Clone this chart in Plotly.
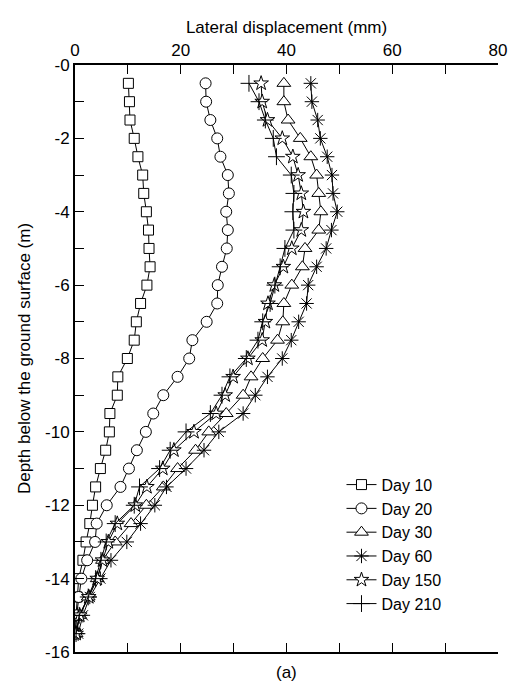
import plotly.graph_objects as go

depth = [-0.5, -1.0, -1.5, -2.0, -2.5, -3.0, -3.5, -4.0, -4.5, -5.0, -5.5, -6.0, -6.5, -7.0, -7.5, -8.0,
         -8.5, -9.0, -9.5, -10.0, -10.5, -11.0, -11.5, -12.0, -12.5, -13.0, -13.5, -14.0, -14.5, -15.0, -15.5]

day10 = [10.1, 10.3, 10.4, 11.2, 11.9, 12.8, 13.0, 13.5, 13.9, 14.0, 14.2, 13.6, 12.4, 11.6, 11.2, 9.9,
         8.1, 8.0, 6.6, 6.5, 5.8, 4.8, 3.9, 3.3, 2.8, 2.1, 1.5, 0.7, 0.4, 0.2, 0.1]
day20 = [24.7, 24.8, 25.6, 26.9, 27.5, 28.9, 29.1, 28.6, 28.9, 28.7, 27.8, 27.0, 26.9, 24.9, 22.2, 21.6,
         19.4, 16.7, 14.8, 13.4, 11.7, 10.2, 8.6, 6.0, 4.1, 3.8, 2.3, 1.2, 0.7, 0.3, 0.1]
day30 = [39.5, 39.5, 40.3, 42.6, 44.6, 45.7, 46.1, 46.5, 46.1, 43.5, 43.0, 41.0, 39.5, 39.3, 38.3, 35.5,
         33.3, 31.8, 28.6, 25.3, 22.8, 19.4, 16.7, 13.5, 10.6, 7.6, 5.2, 4.2, 2.5, 0.9, 0.2]
day60 = [44.6, 44.8, 45.9, 46.4, 47.7, 48.6, 48.8, 49.6, 48.5, 47.5, 45.7, 44.1, 43.8, 42.3, 40.9, 39.2,
         36.4, 34.1, 31.8, 27.2, 24.4, 21.0, 17.3, 15.1, 12.4, 9.8, 6.8, 4.8, 2.8, 1.5, 0.6]
day150 = [35.2, 35.4, 36.4, 39.2, 41.2, 42.2, 42.8, 43.2, 42.8, 41.0, 39.4, 37.7, 36.5, 36.0, 35.4, 32.7,
          29.9, 28.4, 26.7, 22.5, 18.7, 16.6, 13.6, 11.4, 8.0, 6.3, 5.2, 4.2, 2.6, 0.9, 0.2]
day210 = [32.9, 34.8, 36.0, 37.5, 38.1, 40.9, 41.4, 41.2, 41.4, 39.7, 38.8, 37.8, 36.9, 35.5, 34.6, 32.4,
          29.3, 27.8, 25.6, 21.0, 18.0, 16.0, 12.2, 11.2, 7.6, 5.9, 4.9, 3.9, 2.5, 0.8, 0.2]

series_names = ["Day 10", "Day 20", "Day 30", "Day 60", "Day 150", "Day 210"]
series_values = [day10, day20, day30, day60, day150, day210]

x_tickvals = [0, 10, 20, 30, 40, 50, 60, 70, 80]
x_ticktext = ["0", "", "20", "", "40", "", "60", "", "80"]
y_tickvals = [0, -1, -2, -3, -4, -5, -6, -7, -8, -9, -10, -11, -12, -13, -14, -15, -16]
y_ticktext = ["-0", "", "-2", "", "-4", "", "-6", "", "-8", "", "-10", "", "-12", "", "-14", "", "-16"]

styles = [
    dict(symbol="square", size=10, color="white", line=dict(color="black", width=1)),
    dict(symbol="circle", size=11, color="white", line=dict(color="black", width=1)),
    dict(symbol="triangle-up", size=12, color="white", line=dict(color="black", width=1)),
    dict(symbol="asterisk-open", size=12, color="black", line=dict(color="black", width=1)),
    dict(symbol="star", size=11, color="white", line=dict(color="black", width=1)),
    dict(symbol="cross-thin-open", size=12, color="black", line=dict(color="black", width=1)),
]

FONT = "Liberation Sans, Arial, sans-serif"

fig = go.Figure()
for name, vals, st in zip(series_names, series_values, styles):
    fig.add_trace(go.Scatter(
        x=vals, y=depth, mode="lines+markers", name=name,
        line=dict(color="black", width=1),
        marker=st,
    ))

fig.update_layout(
    width=518, height=691,
    margin=dict(l=75, r=11, t=65, b=39),
    paper_bgcolor="white", plot_bgcolor="white",
    font=dict(family=FONT, size=17, color="black"),
    showlegend=True,
    legend=dict(x=0.63, y=0.314, xanchor="left", yanchor="top",
                bgcolor="rgba(0,0,0,0)", font=dict(size=16, family=FONT),
                tracegroupgap=0, itemwidth=30),
    xaxis=dict(side="top", range=[0, 80], tickmode="array", tickvals=x_tickvals, ticktext=x_ticktext,
               ticks="inside", ticklen=9, tickwidth=1, tickcolor="black",
               showline=True, linecolor="black", linewidth=2, mirror="ticks",
               showgrid=False, zeroline=False,
               title=dict(text="Lateral displacement (mm)", font=dict(size=17), standoff=3),
               tickfont=dict(size=17)),
    yaxis=dict(range=[-16, 0], tickmode="array", tickvals=y_tickvals, ticktext=y_ticktext,
               ticks="inside", ticklen=9, tickwidth=1, tickcolor="black",
               showline=True, linecolor="black", linewidth=2,
               showgrid=False, zeroline=False,
               title=dict(text="Depth below the ground surface (m)", font=dict(size=17), standoff=10),
               tickfont=dict(size=17)),
    annotations=[dict(text="(a)", x=0.5, y=-0.015, xref="paper", yref="paper",
                      xanchor="center", yanchor="top", showarrow=False, font=dict(size=17))],
)

fig.write_html("out.html")
